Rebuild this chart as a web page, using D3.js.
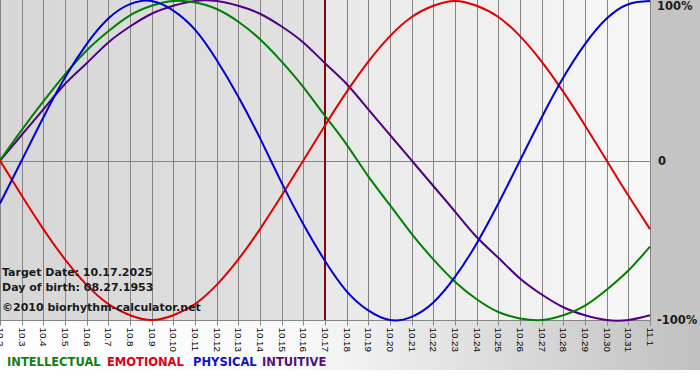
<!DOCTYPE html>
<html>
<head>
<meta charset="utf-8">
<script src="https://cdn.jsdelivr.net/npm/d3@7"></script>
<style>
  body { margin: 0; background: #fff; }
  svg { display: block; }
</style>
</head>
<body>
<svg id="vis"></svg>
<script>
// days shown on the x axis (10.2 .. 11.1)
const days = ["10.2","10.3","10.4","10.5","10.6","10.7","10.8","10.9","10.10","10.11",
              "10.12","10.13","10.14","10.15","10.16","10.17","10.18","10.19","10.20","10.21",
              "10.22","10.23","10.24","10.25","10.26","10.27","10.28","10.29","10.30","10.31","11.1"];

// daily values (-1 .. 1)
const physical = [-0.27, 0.00, 0.27, 0.52, 0.73, 0.89, 0.98, 1.00, 0.94, 0.82, 0.63, 0.40, 0.14, -0.14, -0.40, -0.63,
                  -0.82, -0.94, -1.00, -0.98, -0.89, -0.73, -0.52, -0.27, 0.00, 0.27, 0.52, 0.73, 0.89, 0.98, 1.00];
const emotional = [0.00, -0.22, -0.43, -0.62, -0.78, -0.90, -0.97, -1.00, -0.97, -0.90, -0.78, -0.62, -0.43, -0.22, 0.00, 0.22,
                   0.43, 0.62, 0.78, 0.90, 0.97, 1.00, 0.97, 0.90, 0.78, 0.62, 0.43, 0.22, 0.00, -0.22, -0.43];
const intellectual = [0.00, 0.19, 0.37, 0.54, 0.69, 0.81, 0.91, 0.97, 1.00, 0.99, 0.95, 0.87, 0.76, 0.62, 0.46, 0.28,
                      0.10, -0.10, -0.28, -0.46, -0.62, -0.76, -0.87, -0.95, -0.99, -1.00, -0.97, -0.91, -0.81, -0.69, -0.54];
const intuitive = [0.00, 0.16, 0.32, 0.48, 0.61, 0.74, 0.84, 0.92, 0.97, 1.00, 1.00, 0.97, 0.92, 0.84, 0.74, 0.61,
                   0.48, 0.32, 0.16, 0.00, -0.16, -0.32, -0.48, -0.61, -0.74, -0.84, -0.92, -0.97, -1.00, -1.00, -0.97];

const targetDay = "10.17";
const yTicks = [1, 0, -1];
const yTickLabels = ["100%", "0", "-100%"];
const infoLines = ["Target Date: 10.17.2025", "Day of birth: 08.27.1953", "\u00a92010 biorhythm-calculator.net"];
const legendNames = ["INTELLECTUAL", "EMOTIONAL", "PHYSICAL", "INTUITIVE"];

function main()
{
    const width = 700;
    const height = 380;
    // plot box
    const plot = {left: 0, right: 650, top: 1, bottom: 320};

    const svg = d3.select("#vis")
        .attr("width", width)
        .attr("height", height);

    const defs = svg.append("defs");
    const bg = defs.append("linearGradient").attr("id", "bg");
    bg.append("stop").attr("offset", "0%").attr("stop-color", "#ffffff");
    bg.append("stop").attr("offset", "42%").attr("stop-color", "#f9f9f9");
    bg.append("stop").attr("offset", "100%").attr("stop-color", "#c0c0c0");
    const pastFill = defs.append("linearGradient").attr("id", "past");
    pastFill.append("stop").attr("offset", "0%").attr("stop-color", "#d6d6d6");
    pastFill.append("stop").attr("offset", "100%").attr("stop-color", "#e2e2e2");
    const futureFill = defs.append("linearGradient").attr("id", "future");
    futureFill.append("stop").attr("offset", "0%").attr("stop-color", "#e8e8e8");
    futureFill.append("stop").attr("offset", "100%").attr("stop-color", "#f7f7f7");

    const x = d3.scalePoint()
        .domain(days)
        .range([plot.left, plot.right]);

    const y = d3.scaleLinear()
        .domain([-1, 1])
        .range([plot.bottom, plot.top]);

    // backgrounds
    svg.append("rect").attr("width", width).attr("height", 370).attr("fill", "url(#bg)");
    svg.append("rect").attr("x", plot.right).attr("y", 0).attr("width", width - plot.right)
        .attr("height", plot.bottom + 1).attr("fill", "#c4c4c4");
    svg.append("rect").attr("x", plot.left).attr("y", 0)
        .attr("width", x(targetDay) - plot.left).attr("height", plot.bottom + 1).attr("fill", "url(#past)");
    svg.append("rect").attr("x", x(targetDay)).attr("y", 0)
        .attr("width", plot.right - x(targetDay)).attr("height", plot.bottom + 1).attr("fill", "url(#future)");

    // vertical grid + x ticks
    const xAxis = svg.append("g")
        .attr("transform", "translate(0," + (plot.bottom + 0.5) + ")")
        .call(d3.axisBottom(x).tickSizeInner(-(plot.bottom + 1)).tickSizeOuter(0).tickPadding(0));
    xAxis.select(".domain").remove();
    xAxis.selectAll(".tick line")
        .attr("stroke", "#858585")
        .attr("y2", -(plot.bottom + 1))
        .attr("y1", 5);
    xAxis.selectAll(".tick")
        .attr("transform", d => "translate(" + (Math.round(x(d)) + 0.5) + ",0)");
    xAxis.selectAll(".tick text")
        .attr("font-family", "'Liberation Sans', Arial, sans-serif")
        .attr("font-size", 9.8)
        .attr("fill", "#000")
        .attr("text-anchor", "start")
        .attr("transform", "rotate(90)")
        .attr("x", 7)
        .attr("y", 0)
        .attr("dy", "0.32em");

    // horizontal lines at 0 and -100%
    svg.append("g")
        .selectAll("line")
        .data([0, -1])
        .join("line")
        .attr("x1", plot.left)
        .attr("x2", plot.right)
        .attr("y1", d => Math.round(y(d)) + 0.5)
        .attr("y2", d => Math.round(y(d)) + 0.5)
        .attr("stroke", "#858585");

    // right axis labels
    svg.append("g")
        .selectAll("text")
        .data(yTicks)
        .join("text")
        .attr("x", d => d === 0 ? 658 : 657)
        .attr("y", d => d === 1 ? 6 : y(d))
        .attr("dy", "0.36em")
        .attr("font-family", "'DejaVu Sans', Verdana, sans-serif")
        .attr("font-weight", "bold")
        .attr("font-size", 11.5)
        .attr("fill", "#1a1a1a")
        .text((d, i) => yTickLabels[i]);

    // target day line
    svg.append("line")
        .attr("x1", x(targetDay))
        .attr("x2", x(targetDay))
        .attr("y1", 0)
        .attr("y2", plot.bottom)
        .attr("stroke", "#7a0a0a")
        .attr("stroke-width", 2);

    // curves
    const series = [
        {name: "INTUITIVE", values: intuitive, color: "#500080"},
        {name: "INTELLECTUAL", values: intellectual, color: "#008000"},
        {name: "EMOTIONAL", values: emotional, color: "#e00000"},
        {name: "PHYSICAL", values: physical, color: "#0000d0"}
    ];
    const line = d3.line()
        .x((d, i) => x(days[i]))
        .y(d => y(d))
        .curve(d3.curveNatural);

    svg.append("g")
        .selectAll("path")
        .data(series)
        .join("path")
        .attr("d", d => line(d.values))
        .attr("fill", "none")
        .attr("stroke", d => d.color)
        .attr("stroke-width", 2);

    // info text
    svg.append("g")
        .selectAll("text")
        .data(infoLines)
        .join("text")
        .attr("x", 2)
        .attr("y", (d, i) => [276, 291, 311][i])
        .attr("font-family", "'DejaVu Sans', Verdana, sans-serif")
        .attr("font-weight", "bold")
        .attr("font-size", 11)
        .attr("fill", "#1a1a1a")
        .text(d => d);

    // legend
    const legendColors = {INTELLECTUAL: "#108010", EMOTIONAL: "#e00010", PHYSICAL: "#1010c8", INTUITIVE: "#501080"};
    const legendX = [7, 107, 193, 262];
    svg.append("g")
        .selectAll("text")
        .data(legendNames)
        .join("text")
        .attr("x", (d, i) => legendX[i])
        .attr("y", 366)
        .attr("font-family", "'DejaVu Sans', Verdana, sans-serif")
        .attr("font-weight", "bold")
        .attr("font-size", 11.5)
        .attr("fill", d => legendColors[d])
        .text(d => d);
}

main();
</script>
</body>
</html>
